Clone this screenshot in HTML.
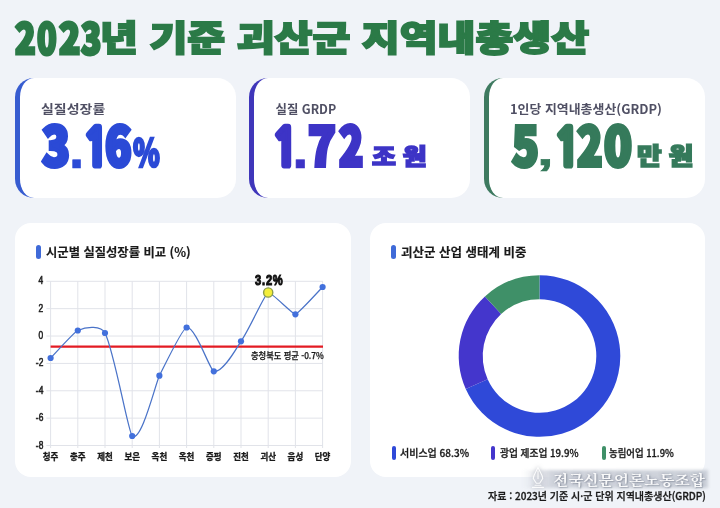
<!DOCTYPE html>
<html lang="ko">
<head>
<meta charset="utf-8">
<title>2023년 기준 괴산군 지역내총생산</title>
<style>
*{margin:0;padding:0;box-sizing:border-box}
html,body{width:720px;height:508px;overflow:hidden;background:#f0f3f8}
body{position:relative;font-family:"Liberation Sans","Noto Sans CJK KR",sans-serif;color:#222}
.abs{position:absolute;white-space:nowrap;transform-origin:0 0;line-height:1}
.grp{position:absolute;left:0;white-space:nowrap;line-height:1;font-size:0}
.g{display:inline-block;width:0;vertical-align:top;position:relative;transform-origin:0 0;line-height:1}
.card{position:absolute;background:#fff;border-radius:16px}
.stat{border-radius:19px}
.stat{border-left:5.6px solid #000}
.bar{position:absolute;width:5px;border-radius:2.5px}
svg{position:absolute;left:0;top:0}
svg text{font-family:"Liberation Sans","Noto Sans CJK KR",sans-serif}
</style>
</head>
<body>
<div class="card stat" style="left:14.8px;top:78px;width:221.2px;height:120px;border-color:#375cd0"></div>
<div class="card stat" style="left:249.2px;top:78px;width:221px;height:120px;border-color:#3f36ba"></div>
<div class="card stat" style="left:483.9px;top:78px;width:221.4px;height:120px;border-color:#3e7a60"></div>
<div class="card" style="left:15px;top:223px;width:336px;height:254px"></div>
<div class="card" style="left:369.5px;top:223px;width:335.5px;height:254px"></div>

<div class="grp" style="top:15.0px"><span class="g" style="left:15.4px;top:0.0px;font-size:42.05px;transform:scaleX(0.809);color:#2b7a47;font-family:'Noto Sans CJK KR','Liberation Sans',sans-serif;font-weight:900;-webkit-text-stroke:3.06px #2b7a47;">2</span><span class="g" style="left:36.8px;top:0.0px;font-size:42.05px;transform:scaleX(0.769);color:#2b7a47;font-family:'Noto Sans CJK KR','Liberation Sans',sans-serif;font-weight:900;-webkit-text-stroke:3.06px #2b7a47;">0</span><span class="g" style="left:58.6px;top:0.0px;font-size:42.05px;transform:scaleX(0.833);color:#2b7a47;font-family:'Noto Sans CJK KR','Liberation Sans',sans-serif;font-weight:900;-webkit-text-stroke:3.06px #2b7a47;">2</span><span class="g" style="left:81.0px;top:0.0px;font-size:42.05px;transform:scaleX(0.793);color:#2b7a47;font-family:'Noto Sans CJK KR','Liberation Sans',sans-serif;font-weight:900;-webkit-text-stroke:3.06px #2b7a47;">3</span><span class="g" style="left:99.8px;top:3.0px;font-size:35.17px;transform:scaleX(1.171);color:#2b7a47;font-family:'Noto Sans CJK KR','Liberation Sans',sans-serif;font-weight:900;-webkit-text-stroke:1.8px #2b7a47;">년 기준 괴산군 지역내총생산</span></div>

<div class="abs" style="left:41.0px;top:103.0px;font-size:12.40px;transform:scaleX(1.127);color:#505064;font-family:'Noto Sans CJK KR','Liberation Sans',sans-serif;font-weight:700;">실질성장률</div>
<div class="grp" style="top:115.8px"><span class="g" style="left:42.4px;top:0.0px;font-size:54.03px;transform:scaleX(0.848);color:#2b4ad6;font-family:'Noto Sans CJK KR','Liberation Sans',sans-serif;font-weight:900;-webkit-text-stroke:4.14px #2b4ad6;">3</span><span class="g" style="left:68.6px;top:5.6px;font-size:56.01px;transform:scaleX(0.982);color:#2b4ad6;font-family:'Liberation Sans',sans-serif;font-weight:700;-webkit-text-stroke:.6px #2b4ad6;">.</span><span class="g" style="left:83.4px;top:6.0px;font-size:51.71px;transform:scaleX(0.844);color:#2b4ad6;font-family:'NanumGothic',sans-serif;font-weight:800;-webkit-text-stroke:4.6px #2b4ad6;">1</span><span class="g" style="left:105.0px;top:0.0px;font-size:54.03px;transform:scaleX(0.807);color:#2b4ad6;font-family:'Noto Sans CJK KR','Liberation Sans',sans-serif;font-weight:900;-webkit-text-stroke:4.14px #2b4ad6;">6</span><span class="g" style="left:133.0px;top:14.2px;font-size:39.30px;transform:scaleX(0.692);color:#2b4ad6;font-family:'Noto Sans CJK KR','Liberation Sans',sans-serif;font-weight:900;-webkit-text-stroke:2.6px #2b4ad6;">%</span></div>

<div class="abs" style="left:275.5px;top:103.0px;font-size:12.40px;transform:scaleX(1.000);color:#505064;font-family:'Noto Sans CJK KR','Liberation Sans',sans-serif;font-weight:700;">실질 GRDP</div>
<div class="grp" style="top:115.8px"><span class="g" style="left:272.4px;top:6.0px;font-size:51.71px;transform:scaleX(0.852);color:#3d34c6;font-family:'NanumGothic',sans-serif;font-weight:800;-webkit-text-stroke:4.6px #3d34c6;">1</span><span class="g" style="left:292.0px;top:5.6px;font-size:56.01px;transform:scaleX(1.071);color:#3d34c6;font-family:'Liberation Sans',sans-serif;font-weight:700;-webkit-text-stroke:.6px #3d34c6;">.</span><span class="g" style="left:308.0px;top:0.0px;font-size:54.03px;transform:scaleX(0.845);color:#3d34c6;font-family:'Noto Sans CJK KR','Liberation Sans',sans-serif;font-weight:900;-webkit-text-stroke:4.14px #3d34c6;">7</span><span class="g" style="left:339.0px;top:0.0px;font-size:54.03px;transform:scaleX(0.740);color:#3d34c6;font-family:'Noto Sans CJK KR','Liberation Sans',sans-serif;font-weight:900;-webkit-text-stroke:4.14px #3d34c6;">2</span> <span class="g" style="left:372.0px;top:27.0px;font-size:22.02px;transform:scaleX(1.178);color:#3d34c6;font-family:'Noto Sans CJK KR','Liberation Sans',sans-serif;font-weight:900;letter-spacing:0.27em;-webkit-text-stroke:1.6px #3d34c6;">조원</span></div>

<div class="abs" style="left:510.0px;top:103.0px;font-size:12.40px;transform:scaleX(1.042);color:#505064;font-family:'Noto Sans CJK KR','Liberation Sans',sans-serif;font-weight:700;">1인당 지역내총생산(GRDP)</div>
<div class="grp" style="top:115.8px"><span class="g" style="left:511.6px;top:0.0px;font-size:54.03px;transform:scaleX(0.813);color:#357a5b;font-family:'Noto Sans CJK KR','Liberation Sans',sans-serif;font-weight:900;-webkit-text-stroke:4.14px #357a5b;">5</span><span class="g" style="left:537.2px;top:17.6px;font-size:38.00px;transform:scaleX(1.568);color:#357a5b;font-family:'Liberation Sans',sans-serif;font-weight:700;-webkit-text-stroke:.6px #357a5b;">,</span><span class="g" style="left:554.2px;top:6.0px;font-size:51.71px;transform:scaleX(0.854);color:#357a5b;font-family:'NanumGothic',sans-serif;font-weight:800;-webkit-text-stroke:4.6px #357a5b;">1</span><span class="g" style="left:576.8px;top:0.0px;font-size:54.03px;transform:scaleX(0.776);color:#357a5b;font-family:'Noto Sans CJK KR','Liberation Sans',sans-serif;font-weight:900;-webkit-text-stroke:4.14px #357a5b;">2</span><span class="g" style="left:603.6px;top:0.0px;font-size:54.03px;transform:scaleX(0.850);color:#357a5b;font-family:'Noto Sans CJK KR','Liberation Sans',sans-serif;font-weight:900;-webkit-text-stroke:4.14px #357a5b;">0</span> <span class="g" style="left:637.4px;top:27.6px;font-size:23.06px;transform:scaleX(1.159);color:#357a5b;font-family:'Noto Sans CJK KR','Liberation Sans',sans-serif;font-weight:900;letter-spacing:0.27em;-webkit-text-stroke:1.6px #357a5b;">만원</span></div>

<div class="bar" style="left:35.5px;top:244.5px;height:14.5px;background:#3f6ad8"></div>
<div class="abs" style="left:45.5px;top:246.0px;font-size:12.40px;transform:scaleX(0.993);color:#1a1a1a;font-family:'Noto Sans CJK KR','Liberation Sans',sans-serif;font-weight:700;-webkit-text-stroke:0.15px #1a1a1a;">시군별 실질성장률 비교 (%)</div>
<div class="bar" style="left:391.2px;top:244.5px;height:14.5px;background:#3f6ad8"></div>
<div class="abs" style="left:400.5px;top:246.0px;font-size:12.40px;transform:scaleX(1.008);color:#1a1a1a;font-family:'Noto Sans CJK KR','Liberation Sans',sans-serif;font-weight:700;-webkit-text-stroke:0.15px #1a1a1a;">괴산군 산업 생태계 비중</div>

<svg width="720" height="508" viewBox="0 0 720 508">
<g stroke="#e1e3e9" stroke-width="1" fill="none"><line x1="46.4" x2="323" y1="281.30" y2="281.30"/><line x1="46.4" x2="323" y1="308.67" y2="308.67"/><line x1="46.4" x2="323" y1="336.04" y2="336.04"/><line x1="46.4" x2="323" y1="363.41" y2="363.41"/><line x1="46.4" x2="323" y1="390.78" y2="390.78"/><line x1="46.4" x2="323" y1="418.15" y2="418.15"/><line x1="46.4" x2="323" y1="445.52" y2="445.52"/><line x1="50.60" x2="50.60" y1="281.3" y2="448"/><line x1="77.80" x2="77.80" y1="281.3" y2="448"/><line x1="105.00" x2="105.00" y1="281.3" y2="448"/><line x1="132.20" x2="132.20" y1="281.3" y2="448"/><line x1="159.40" x2="159.40" y1="281.3" y2="448"/><line x1="186.60" x2="186.60" y1="281.3" y2="448"/><line x1="213.80" x2="213.80" y1="281.3" y2="448"/><line x1="241.00" x2="241.00" y1="281.3" y2="448"/><line x1="268.20" x2="268.20" y1="281.3" y2="448"/><line x1="295.40" x2="295.40" y1="281.3" y2="448"/><line x1="322.60" x2="322.60" y1="281.3" y2="448"/></g>
<line x1="50.6" x2="323" y1="346.6" y2="346.6" stroke="#e31b23" stroke-width="2.2"/>
<path d="M50.60 358.00 C55.13 353.42 73.99 332.25 77.80 330.50 C86.87 326.33 101.19 325.62 105.00 333.00 C114.07 350.58 128.39 433.01 132.20 436.00 C141.27 443.12 155.59 383.30 159.40 375.70 C168.47 357.62 182.79 327.81 186.60 327.50 C195.67 326.77 209.99 370.33 213.80 371.30 C222.87 373.60 237.19 346.82 241.00 341.30 C250.07 328.17 264.39 294.39 268.20 292.50 C270.65 291.29 292.95 314.55 295.40 314.30 C297.85 314.05 321.38 288.23 322.60 287.00" fill="none" stroke="#4a73c8" stroke-width="1.25"/>
<g fill="#4270dc"><circle cx="50.60" cy="358.00" r="3.1"/><circle cx="77.80" cy="330.50" r="3.1"/><circle cx="105.00" cy="333.00" r="3.1"/><circle cx="132.20" cy="436.00" r="3.1"/><circle cx="159.40" cy="375.70" r="3.1"/><circle cx="186.60" cy="327.50" r="3.1"/><circle cx="213.80" cy="371.30" r="3.1"/><circle cx="241.00" cy="341.30" r="3.1"/><circle cx="295.40" cy="314.30" r="3.1"/><circle cx="322.60" cy="287.00" r="3.1"/></g>
<circle cx="268.20" cy="292.50" r="4.6" fill="#f3ee3c" stroke="#8c9e4a" stroke-width="1.4"/>
<g font-size="10" fill="#222" stroke="#222" stroke-width=".55" font-weight="400" transform="translate(43.3 0) scale(.84 1) translate(-43.3 0)"><text x="43.3" y="284.30" text-anchor="end">4</text><text x="43.3" y="311.67" text-anchor="end">2</text><text x="43.3" y="339.04" text-anchor="end">0</text><text x="43.3" y="366.41" text-anchor="end">-2</text><text x="43.3" y="393.78" text-anchor="end">-4</text><text x="43.3" y="421.15" text-anchor="end">-6</text><text x="43.3" y="448.52" text-anchor="end">-8</text></g>
<g font-size="8.6" fill="#1a1a1a" stroke="#1a1a1a" stroke-width=".3" font-weight="700"><text x="50.60" y="459.5" text-anchor="middle" textLength="15.6" lengthAdjust="spacingAndGlyphs">청주</text><text x="77.80" y="459.5" text-anchor="middle" textLength="15.6" lengthAdjust="spacingAndGlyphs">충주</text><text x="105.00" y="459.5" text-anchor="middle" textLength="15.6" lengthAdjust="spacingAndGlyphs">제천</text><text x="132.20" y="459.5" text-anchor="middle" textLength="15.6" lengthAdjust="spacingAndGlyphs">보은</text><text x="159.40" y="459.5" text-anchor="middle" textLength="15.6" lengthAdjust="spacingAndGlyphs">옥천</text><text x="186.60" y="459.5" text-anchor="middle" textLength="15.6" lengthAdjust="spacingAndGlyphs">옥천</text><text x="213.80" y="459.5" text-anchor="middle" textLength="15.6" lengthAdjust="spacingAndGlyphs">증평</text><text x="241.00" y="459.5" text-anchor="middle" textLength="15.6" lengthAdjust="spacingAndGlyphs">진천</text><text x="268.20" y="459.5" text-anchor="middle" textLength="15.6" lengthAdjust="spacingAndGlyphs">괴산</text><text x="295.40" y="459.5" text-anchor="middle" textLength="15.6" lengthAdjust="spacingAndGlyphs">음성</text><text x="322.60" y="459.5" text-anchor="middle" textLength="15.6" lengthAdjust="spacingAndGlyphs">단양</text></g>
<path fill="#2f49d8" d="M539.50 275.20 A80.80 80.80 0 1 1 465.75 389.02 L487.66 379.21 A56.80 56.80 0 1 0 539.50 299.20 Z"/><path fill="#4436cc" d="M465.75 389.02 A80.80 80.80 0 0 1 484.93 296.41 L501.14 314.11 A56.80 56.80 0 0 0 487.66 379.21 Z"/><path fill="#3f9068" d="M484.93 296.41 A80.80 80.80 0 0 1 539.50 275.20 L539.50 299.20 A56.80 56.80 0 0 0 501.14 314.11 Z"/>
</svg>
<div class="abs" style="left:250.5px;top:352.0px;font-size:8.84px;transform:scaleX(0.935);color:#1a1a1a;font-family:'Noto Sans CJK KR','Liberation Sans',sans-serif;font-weight:500;-webkit-text-stroke:0.25px #1a1a1a;">충청북도 평균 -0.7%</div>
<div class="abs" style="left:255.0px;top:274.0px;font-size:13.91px;transform:scaleX(0.800);color:#111;font-family:'Liberation Sans',sans-serif;font-weight:700;-webkit-text-stroke:1px #111;letter-spacing:1px;">3.2%</div>

<div class="bar" style="left:392px;top:445.5px;width:4.3px;height:14.5px;background:#2f49d8"></div>
<div class="abs" style="left:400.0px;top:449.4px;font-size:9.86px;transform:scaleX(1.015);color:#1a1a1a;font-family:'Noto Sans CJK KR','Liberation Sans',sans-serif;font-weight:500;-webkit-text-stroke:0.3px #1a1a1a;">서비스업 68.3%</div>
<div class="bar" style="left:491.2px;top:445.5px;width:4.3px;height:14.5px;background:#4436cc"></div>
<div class="abs" style="left:499.8px;top:449.4px;font-size:9.86px;transform:scaleX(0.985);color:#1a1a1a;font-family:'Noto Sans CJK KR','Liberation Sans',sans-serif;font-weight:500;-webkit-text-stroke:0.3px #1a1a1a;">광업 제조업 19.9%</div>
<div class="bar" style="left:601.7px;top:445.5px;width:4.3px;height:14.5px;background:#3f9068"></div>
<div class="abs" style="left:609.2px;top:449.4px;font-size:9.86px;transform:scaleX(0.953);color:#1a1a1a;font-family:'Noto Sans CJK KR','Liberation Sans',sans-serif;font-weight:500;-webkit-text-stroke:0.3px #1a1a1a;">농림어업 11.9%</div>

<div style="position:absolute;left:522px;top:470px;width:186px;height:18px;background:linear-gradient(90deg,rgba(214,218,226,0),rgba(204,208,217,.88) 16%,rgba(200,205,214,.92) 100%);filter:blur(1.6px)"></div>
<svg width="720" height="508" viewBox="0 0 720 508" style="filter:drop-shadow(0 0 2px rgba(95,102,120,.5))">
<g fill="none" stroke="rgba(255,255,255,.9)" stroke-width="1.1" stroke-linejoin="round" stroke-linecap="round">
<path d="M538 467.5 C536 472 533.3 475 533.3 478.5 L536.3 483.2 L539.7 483.2 L542.7 478.5 C542.7 475 540 472 538 467.5 Z"/>
<path d="M538 471 L538 478.5"/>
<path d="M535 485.2 H541 M532.5 487.4 H543.5"/>
</g></svg>
<div class="abs" style="left:553.0px;top:473.0px;font-size:13.19px;transform:scaleX(1.192);color:rgba(255,255,255,.92);font-family:'Noto Serif CJK KR','Liberation Serif',serif;font-weight:700;text-shadow:0 0 2px rgba(95,102,120,.4),0 0 4px rgba(95,102,120,.25),1px 1px 1px rgba(95,102,120,.35);">전국신문언론노동조합</div>
<div class="abs" style="left:488.0px;top:491.2px;font-size:10.51px;transform:scaleX(0.953);color:#1a1a1a;font-family:'Noto Sans CJK KR','Liberation Sans',sans-serif;font-weight:500;-webkit-text-stroke:0.3px #1a1a1a;">자료 : 2023년 기준 시·군 단위 지역내총생산(GRDP)</div>
</body>
</html>
